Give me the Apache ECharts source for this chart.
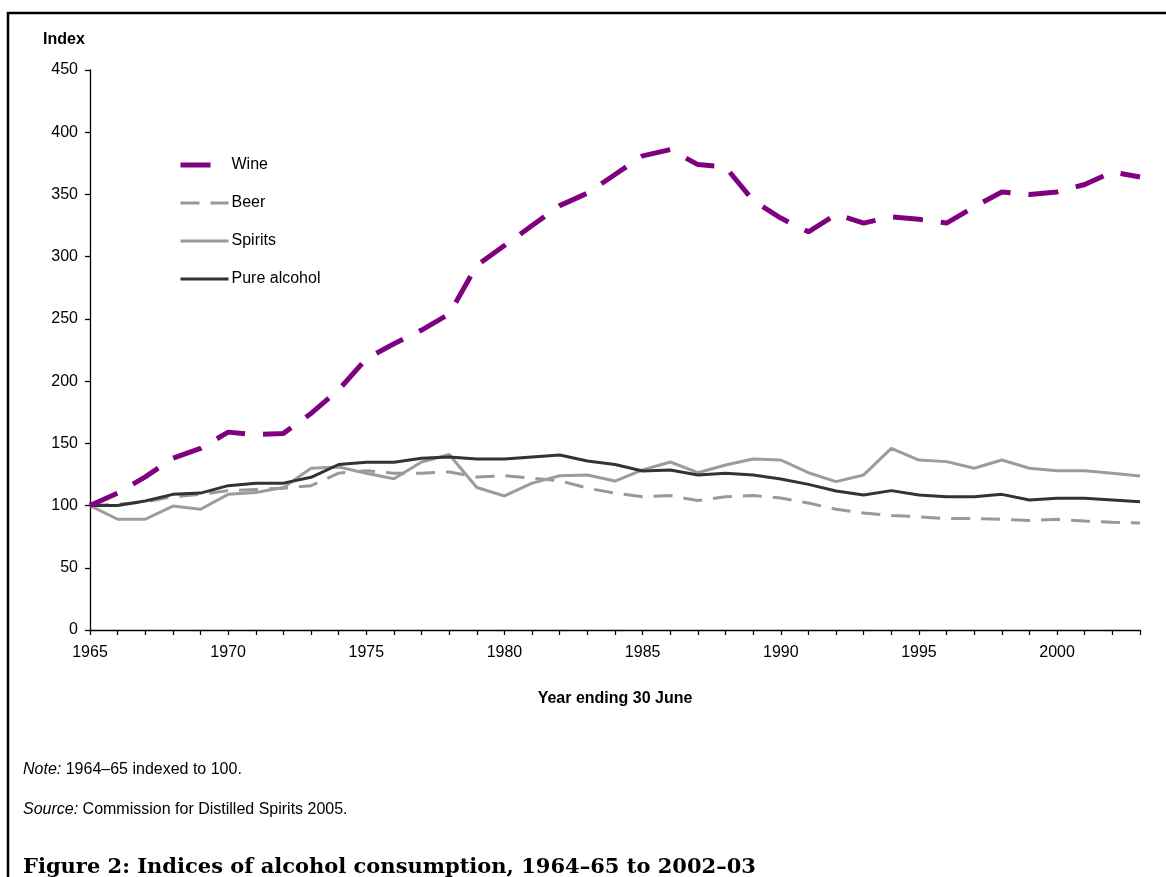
<!DOCTYPE html>
<html>
<head>
<meta charset="utf-8">
<script src="https://cdn.jsdelivr.net/npm/echarts@6/dist/echarts.min.js"></script>
<style>
html,body{margin:0;padding:0;background:#fff;}
#chart{width:1166px;height:877px;}
</style>
</head>
<body>
<div id="chart"></div>
<script>
const years = [1965,1966,1967,1968,1969,1970,1971,1972,1973,1974,1975,1976,1977,1978,1979,1980,1981,1982,1983,1984,1985,1986,1987,1988,1989,1990,1991,1992,1993,1994,1995,1996,1997,1998,1999,2000,2001,2002,2003];
const wine = [100,110,123,138,146,159,157,158,174,193,218,230,241,254,293,309,325,341,351,366,381,386,374,372,345,331,320,334,327,332,330,327,340,352,350,352,358,368,364];
const beer = [100,101,103,107,109,112,113,114,116,126,128,126,126,127,123,124,122,120,114,110,107,108,104,107,108,106,102,97,94,92,91,89.5,89.5,89,88,89,87.5,86.5,86];
const spirits = [100,89,89,99.6,97,109,110.5,114.5,130,131,126,121.5,135,141,114.5,107.7,118,124,124.6,119.7,128.6,135,126.4,132.6,137.4,136.6,126.4,119.2,124.6,146,136.6,135.3,130,136.6,130,128,128,126,123.8];
const pureAlcohol = [100,100,103.7,109,110,116,118,118,122.7,133,134.8,134.8,138,139,137.4,137.4,139,140.6,135.8,133,127.8,128.6,124.6,126,124.6,121.3,117,111.7,108.5,112,108.5,107,107,109,104.5,105.8,105.8,104.5,103];
const seriesNames = ['Wine','Beer','Spirits','Pure alcohol'];
const yTicks = [0,50,100,150,200,250,300,350,400,450];

const pair = arr => years.map((y,i)=>[y,arr[i]]);
const font = '"Liberation Sans", Arial, sans-serif';

const chart = echarts.init(document.getElementById('chart'));
chart.setOption({
  animation:false,
  backgroundColor:'#fff',
  grid:{left:90,right:26,top:70,bottom:247,containLabel:false},
  legend:{
    orient:'vertical',left:178,top:157,padding:0,
    itemWidth:48,itemHeight:14,itemGap:22,
    itemStyle:{opacity:0},
    lineStyle:{width:'inherit',type:'inherit'},
    textStyle:{fontFamily:font,fontSize:16,color:'#000',padding:[0,0,0,-2]},
    data:seriesNames
  },
  xAxis:{
    type:'value',min:1965,max:2003,interval:1,
    name:'Year ending 30 June',nameLocation:'middle',nameGap:61,
    nameTextStyle:{fontFamily:font,fontSize:16,fontWeight:'bold',color:'#000'},
    axisLine:{onZero:false,lineStyle:{color:'#000',width:1.3}},
    axisTick:{length:5,lineStyle:{color:'#000',width:1.3}},
    axisLabel:{margin:15,fontFamily:font,fontSize:16,color:'#000',
      formatter:v=> (v%5===0? String(v):'')},
    splitLine:{show:false}
  },
  yAxis:{
    type:'value',min:yTicks[0],max:yTicks[yTicks.length-1],interval:50,
    axisLine:{show:true,lineStyle:{color:'#000',width:1.3}},
    axisTick:{show:true,length:5,lineStyle:{color:'#000',width:1.3}},
    axisLabel:{margin:12,fontFamily:font,fontSize:16,color:'#000'},
    splitLine:{show:false}
  },
  series:[
    {name:seriesNames[0],type:'line',data:pair(wine),symbol:'none',z:5,
      lineStyle:{color:'#800080',width:5,type:[30,18]},itemStyle:{color:'#800080'}},
    {name:seriesNames[1],type:'line',data:pair(beer),symbol:'none',z:2,
      lineStyle:{color:'#999999',width:3,type:[19,11]},itemStyle:{color:'#999999'}},
    {name:seriesNames[2],type:'line',data:pair(spirits),symbol:'none',z:3,
      lineStyle:{color:'#9c9c9c',width:3},itemStyle:{color:'#9c9c9c'}},
    {name:seriesNames[3],type:'line',data:pair(pureAlcohol),symbol:'none',z:4,
      lineStyle:{color:'#333333',width:3},itemStyle:{color:'#333333'}}
  ],
  graphic:[
    {type:'rect',shape:{x:8,y:13,width:1200,height:950},style:{fill:'none',stroke:'#000',lineWidth:2.5},silent:true},
    {type:'text',left:43,top:32,style:{text:'Index',font:'bold 16px '+font,fill:'#000'}},
    {type:'text',left:23,top:762,style:{rich:{i:{fontStyle:'italic',fontFamily:font,fontSize:16,fill:'#000'},n:{fontFamily:font,fontSize:16,fill:'#000'}},text:'{i|Note:}{n| 1964–65 indexed to 100.}'}},
    {type:'text',left:23,top:802,style:{rich:{i:{fontStyle:'italic',fontFamily:font,fontSize:16,fill:'#000'},n:{fontFamily:font,fontSize:16,fill:'#000'}},text:'{i|Source:}{n| Commission for Distilled Spirits 2005.}'}},
    {type:'text',left:23,top:857,style:{text:'Figure 2: Indices of alcohol consumption, 1964–65 to 2002–03',font:'bold 21px "DejaVu Serif", "Liberation Serif", serif',fill:'#000'}}
  ]
});
</script>
</body>
</html>
